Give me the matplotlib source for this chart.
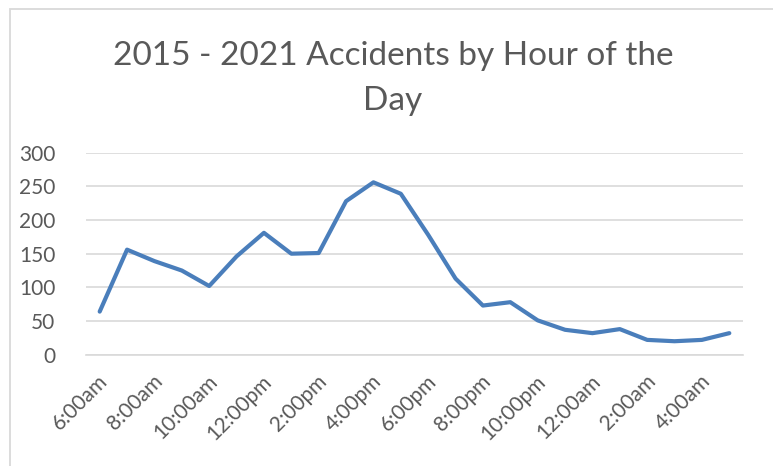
import matplotlib
matplotlib.use("Agg")
import matplotlib.pyplot as plt
from matplotlib.patches import Rectangle
from matplotlib.transforms import ScaledTranslation

hours = ["6:00am", "7:00am", "8:00am", "9:00am", "10:00am", "11:00am",
         "12:00pm", "1:00pm", "2:00pm", "3:00pm", "4:00pm", "5:00pm",
         "6:00pm", "7:00pm", "8:00pm", "9:00pm", "10:00pm", "11:00pm",
         "12:00am", "1:00am", "2:00am", "3:00am", "4:00am", "5:00am"]
accidents = [64, 156, 139, 125, 102, 146, 181, 150, 151, 228, 256, 239,
             178, 113, 73, 78, 51, 37, 32, 38, 22, 20, 22, 32]
title_line1 = "2015 - 2021 Accidents by Hour of the"
title_line2 = "Day"
yticks = [0, 50, 100, 150, 200, 250, 300]

FONT = "Lato"
TXT = "#595959"
W, H = 773, 466

fig = plt.figure(figsize=(W / 100, H / 100), dpi=100)
fig.patch.set_facecolor("white")

# chart border (extends past right/bottom edges as in the reference)
fig.patches.append(Rectangle((10 / W, -0.05), 1.2, 1 - 9 / H + 0.05,
                             transform=fig.transFigure, fill=False,
                             edgecolor="#D9D9D9", linewidth=1.3))

ax = fig.add_axes([86 / W, 1 - 354.7 / H, (743 - 86) / W, (354.7 - 152.7) / H])
x = list(range(len(hours)))
ax.plot(x, accidents, color="#4A7EBB", linewidth=3, solid_joinstyle="round",
        solid_capstyle="round", zorder=3)

ax.set_xlim(-0.5, len(hours) - 0.5)
ax.set_ylim(0, 300)
ax.set_yticks(yticks)
ax.set_yticklabels([str(v) for v in yticks], fontsize=15, color=TXT, family=FONT)
ax.grid(axis="y", color="#D9D9D9", linewidth=1.2)
ax.set_axisbelow(True)

ax.set_xticks(x[::2])
ax.set_xticklabels(hours[::2], rotation=45, ha="right", va="center",
                   rotation_mode="anchor", fontsize=15, color=TXT, family=FONT)
ax.tick_params(axis="both", length=0)
ax.tick_params(axis="y", pad=22)
ax.tick_params(axis="x", pad=17)
shift = ScaledTranslation(5 / 100, 0, fig.dpi_scale_trans)
for lab in ax.get_xticklabels():
    lab.set_transform(lab.get_transform() + shift)
for s in ["top", "right", "left"]:
    ax.spines[s].set_visible(False)
ax.spines["bottom"].set_color("#D9D9D9")
ax.spines["bottom"].set_linewidth(1.2)

fig.text(393 / W, 1 - 65 / H, title_line1, ha="center", va="baseline",
         fontsize=24, color=TXT, family=FONT)
fig.text(393 / W, 1 - 110 / H, title_line2, ha="center", va="baseline",
         fontsize=24, color=TXT, family=FONT)

fig.savefig("out.png", dpi=100)
